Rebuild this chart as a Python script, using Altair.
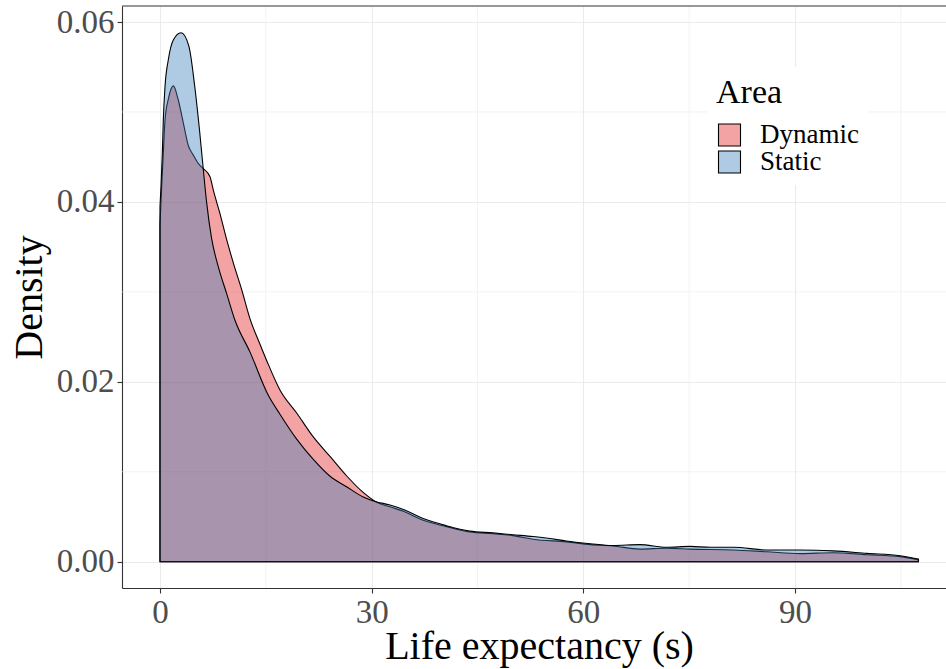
import altair as alt
import pandas as pd

# Kernel density estimates of life expectancy (seconds) per area type
dynamic_x = [0, 0.24, 0.47, 0.71, 1.2, 1.9, 2.6, 3.3, 4.0, 4.72, 5.5, 6.14, 7.09, 7.56,
             8.5, 9.45, 10.4, 11.6, 12.76, 14.0, 15.1, 17.0, 19.4, 21.7, 24.1, 26.5,
             28.8, 30.5, 32.6, 34.5, 37.3, 40.6, 43.9, 47.2, 50.0, 52.9, 57.6, 61.0,
             64.2, 68.0, 71.8, 75.1, 81.3, 86.0, 90.7, 95.4, 100.2, 104.9, 107.5]
dynamic_y = [0.0375, 0.0417, 0.0454, 0.0491, 0.0515, 0.0529, 0.0513, 0.0488, 0.0463,
             0.0452, 0.0442, 0.0437, 0.0428, 0.0413, 0.0387, 0.0358, 0.0332, 0.0302,
             0.0270, 0.0245, 0.0224, 0.0191, 0.0165, 0.0139, 0.0117, 0.0095, 0.0077,
             0.0067, 0.0061, 0.0056, 0.0046, 0.0039, 0.0033, 0.0031, 0.0029, 0.0025,
             0.0022, 0.0019, 0.00175, 0.0014, 0.0015, 0.0014, 0.0013, 0.0011, 0.0009,
             0.0010, 0.00078, 0.00056, 0.0002]

static_x = [0, 0.14, 0.33, 0.47, 0.71, 1.18, 1.89, 2.98, 4.1, 4.9, 5.6, 6.14, 6.6, 7.3,
            8.26, 9.45, 10.6, 12.76, 15.35, 17.0, 19.4, 21.7, 24.1, 26.5, 28.8, 30.5,
            32.6, 34.5, 37.3, 40.6, 43.9, 47.2, 50.0, 52.9, 55.0, 57.6, 61.0, 64.2,
            68.0, 71.8, 75.1, 78.0, 81.3, 86.0, 90.7, 95.4, 100.2, 104.9, 107.5]
static_y = [0.0395, 0.0417, 0.0454, 0.0491, 0.0528, 0.0558, 0.0580, 0.0588, 0.0573,
            0.0530, 0.0480, 0.0436, 0.0400, 0.0360, 0.0328, 0.0298, 0.0269, 0.0233,
            0.0185, 0.0164, 0.0136, 0.0114, 0.0095, 0.0083, 0.0072, 0.0067, 0.0063,
            0.0058, 0.0048, 0.0040, 0.0034, 0.0032, 0.0030, 0.0028, 0.0026, 0.0023,
            0.0020, 0.0018, 0.0019, 0.0016, 0.0017, 0.0016, 0.0016, 0.0013, 0.0013,
            0.0012, 0.00093, 0.00067, 0.0003]

areas = ["Dynamic", "Static"]
area_colors = ["rgba(228,26,28,0.4)", "rgba(55,126,184,0.4)"]

x_ticks = [0, 30, 60, 90]
x_minor = [15, 45, 75, 105]
y_ticks = [0.0, 0.02, 0.04, 0.06]
y_minor = [0.01, 0.03, 0.05]

FONT = "Liberation Serif"
PANEL_W, PANEL_H = 824, 582

df = pd.concat([
    pd.DataFrame({"life": dynamic_x, "density": dynamic_y, "Area": "Dynamic"}),
    pd.DataFrame({"life": static_x, "density": static_y, "Area": "Static"}),
])

x_scale = alt.Scale(domain=[-5.385, 111.4], nice=False, zero=False)
y_scale = alt.Scale(domain=[-0.002924, 0.06178], nice=False, zero=False)
color_scale = alt.Scale(domain=areas, range=area_colors)

legend = alt.Legend(
    orient="none", legendX=585, legendY=61, fillColor="white", padding=9,
    title="Area", titleFontSize=34, titleFontWeight="normal", titleColor="black",
    titlePadding=11.5, labelFontSize=27, labelColor="black", labelOffset=17,
    symbolType="square", symbolSize=484, symbolStrokeColor="black",
    symbolStrokeWidth=1.1, rowPadding=-4,
)

# identical axis definitions in every layer so they merge into one axis each
x_axis = alt.Axis(
    values=x_ticks, format="d", title="Life expectancy (s)", labelFlush=False,
    titleX=417, titleY=70, titleAlign="center", titleBaseline="alphabetic",
)
y_axis = alt.Axis(
    values=y_ticks, format=".2f", title="Density", titleAngle=270,
    titleX=-81, titleY=291, titleAlign="center", titleBaseline="alphabetic",
)

minor_v = alt.Chart(pd.DataFrame({"life": x_minor})).mark_rule(
    color="#EBEBEB", strokeWidth=0.6
).encode(x=alt.X("life:Q", scale=x_scale, axis=x_axis))

minor_h = alt.Chart(pd.DataFrame({"density": y_minor})).mark_rule(
    color="#EBEBEB", strokeWidth=0.6
).encode(y=alt.Y("density:Q", scale=y_scale, axis=y_axis))

# panel border along the top edge
top_border = alt.Chart(pd.DataFrame({"k": [0]})).mark_rule(
    color="#333333", strokeWidth=1.1
).encode(x=alt.value(0), x2=alt.value(PANEL_W), y=alt.value(0))


def density_layer(name):
    return alt.Chart(df).transform_filter(alt.datum.Area == name).mark_area(
        stroke="black", strokeWidth=1.1, interpolate="monotone", strokeJoin="round"
    ).encode(
        x=alt.X("life:Q", scale=x_scale, axis=x_axis),
        y=alt.Y("density:Q", scale=y_scale, axis=y_axis, stack=None),
        y2=alt.datum(0),
        color=alt.Color("Area:N", scale=color_scale, legend=legend),
    )


chart = alt.layer(
    minor_v, minor_h, density_layer("Dynamic"), density_layer("Static"), top_border
).properties(
    width=PANEL_W, height=PANEL_H, autosize="none",
    padding={"left": 122, "top": 6, "right": 0, "bottom": 81},
    background="white",
).configure(font=FONT).configure_view(stroke=None).configure_axis(
    gridColor="#EBEBEB", gridWidth=1.1, domainColor="#333333", domainWidth=1.1,
    tickColor="#333333", tickWidth=1.1, tickSize=5, labelPadding=3,
    labelFontSize=33, labelColor="#4D4D4D", labelFont=FONT,
    titleFontSize=40, titleColor="black", titleFontWeight="normal", titleFont=FONT,
).configure_legend(labelFont=FONT, titleFont=FONT)

chart.save("out.html", embed_options={"renderer": "svg", "actions": False})
